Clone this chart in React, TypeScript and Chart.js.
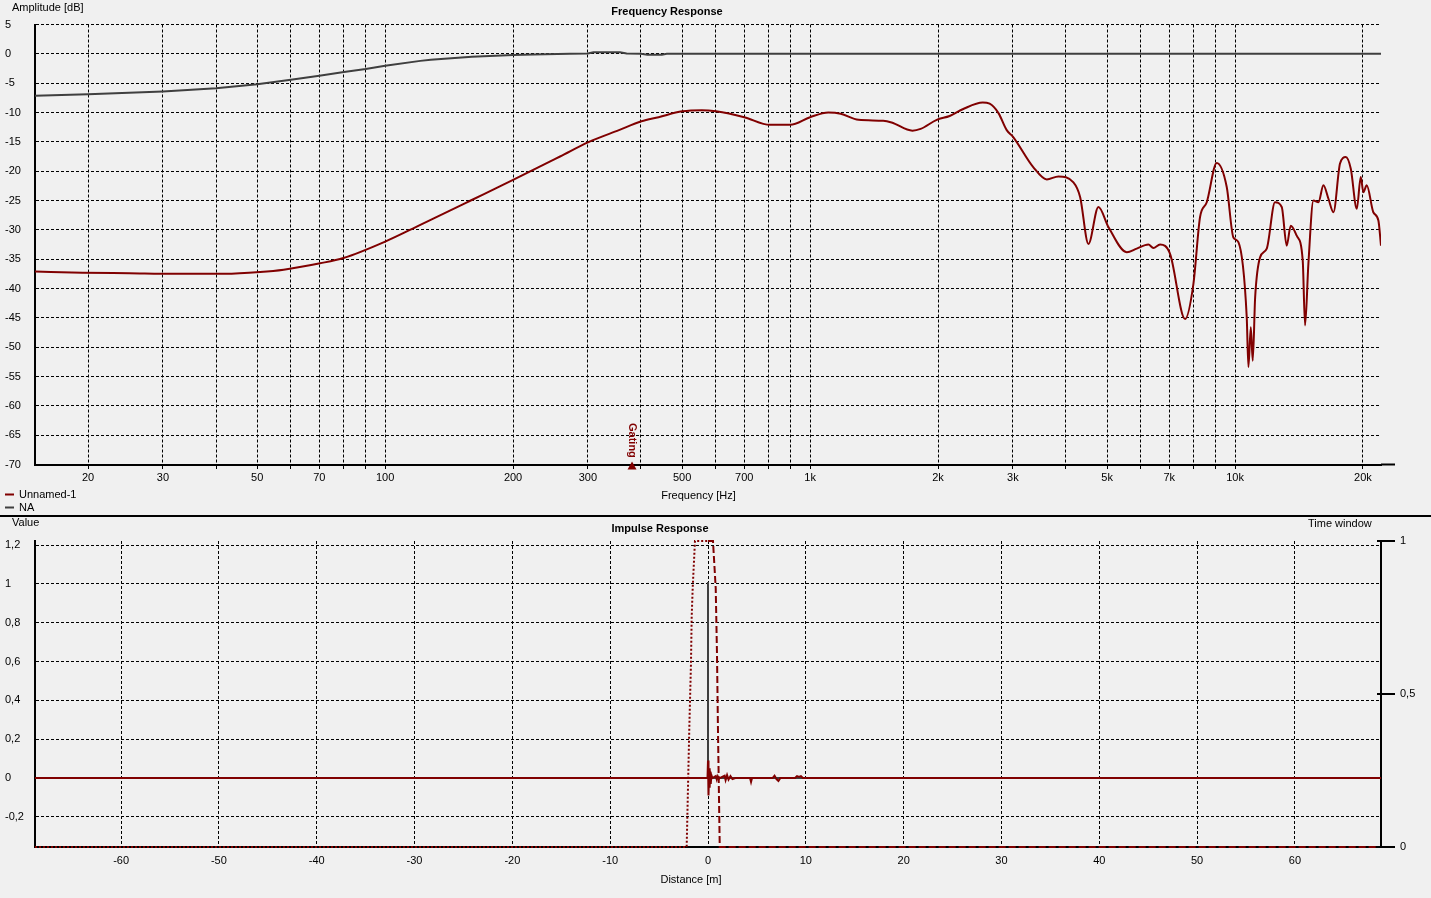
import React, { useEffect, useRef } from 'react';
import { Chart, registerables } from 'chart.js';

Chart.register(...registerables);

// ---------- Frequency response data ----------
const FREQ_RED = [
  15, 19.4, 25, 32, 42, 50.8, 57.7, 70.3, 79.8, 100, 121, 128, 159, 200, 258, 301, 355, 401, 440, 500, 556, 601,
  700, 805, 898, 1000, 1104, 1180, 1300, 1486, 1555, 1741, 1820, 1986, 2130, 2293, 2548, 2645, 2775, 2902, 3000,
  3350, 3606, 3840, 4165, 4319, 4518, 4769, 5035, 5562, 5870, 6252, 6424, 6661, 7031, 7627, 7980, 8273, 8578,
  9055, 9559, 9909, 10182, 10653, 10750, 10890, 11005, 11150, 11451, 11873, 12417, 12877, 13230, 13520, 13967,
  14428, 14612, 14878, 15290, 15710, 16140, 16585, 17040, 17660, 18220, 18720, 19340, 19760, 20040, 20410,
  21150, 21740, 22050,
];
const AMP_RED = [
  -37.1, -37.3, -37.4, -37.5, -37.5, -37.2, -36.8, -35.7, -34.8, -32.0, -29.15, -28.3, -25.0, -21.5, -17.5, -15.05,
  -13.0, -11.5, -10.8, -9.8, -9.6, -9.8, -10.8, -12.1, -12.1, -10.8, -10.0, -10.2, -11.25, -11.4, -11.7, -13.1,
  -12.8, -11.25, -10.6, -9.4, -8.3, -8.5, -10.1, -13.0, -14.1, -19.3, -21.4, -20.9, -21.9, -24.4, -32.4, -26.1,
  -29.5, -33.8, -33.2, -32.5, -33.1, -32.5, -34.1, -45.2, -39.2, -27.8, -25.3, -18.6, -22.7, -31.3, -32.1, -44.9,
  -53.4, -46.6, -52.3, -41.5, -34.7, -33.2, -25.3, -26.1, -32.7, -29.3, -31.0, -35.2, -46.3, -35.8, -25.0, -25.3,
  -22.4, -24.7, -27.0, -18.7, -17.6, -19.6, -26.4, -21.0, -23.6, -22.4, -27.0, -28.4, -32.7,
];
const FREQ_NA = [15, 20, 30, 40, 50, 60, 70, 80, 90, 100, 121, 128, 160, 200, 223, 272, 300, 309, 357, 370, 400, 414, 448, 460, 22050];
const AMP_NA = [-7.16, -6.9, -6.4, -5.85, -5.2, -4.4, -3.75, -3.1, -2.6, -2.05, -1.2, -1.0, -0.5, -0.2, -0.1, 0, 0.05, 0.25, 0.25, 0.05, 0, -0.15, -0.15, 0, 0];

const FREQ_TICKS = [20, 30, 40, 50, 60, 70, 80, 90, 100, 200, 300, 400, 500, 600, 700, 800, 900, 1000, 2000, 3000, 4000, 5000, 6000, 7000, 8000, 9000, 10000, 20000];
const FREQ_TICK_LABELS = ['20', '30', '', '50', '', '70', '', '', '100', '200', '300', '', '500', '', '700', '', '', '1k', '2k', '3k', '', '5k', '', '7k', '', '', '10k', '20k'];
const AMP_TICKS = [5, 0, -5, -10, -15, -20, -25, -30, -35, -40, -45, -50, -55, -60, -65, -70];
const GATING_FREQ = 381;

// ---------- Impulse response data ----------
const IMP_RED_X = [-68.8, -0.05, 0.0, 0.03, 0.07, 0.12, 0.17, 0.22, 0.28, 0.35, 0.45, 0.8, 0.9, 1.0, 1.1, 1.2, 1.7, 1.8, 1.95, 2.1, 2.3, 2.5, 2.8, 4.3, 4.4, 4.5, 6.6, 6.8, 7.0, 7.2, 7.4, 8.9, 9.1, 9.3, 9.5, 9.7, 68.8];
const IMP_RED_Y = [0, 0, 0.09, -0.02, -0.09, 0.05, -0.05, 0.03, -0.03, 0.015, 0, 0.01, -0.008, 0.008, -0.005, 0, 0.012, -0.01, 0.015, -0.008, 0.01, -0.005, 0, 0, -0.02, 0, 0, 0.012, -0.005, -0.015, 0, 0, 0.01, 0.006, 0.01, 0, 0];
const IMP_NA_X = [-68.8, 0, 0, 0, 68.8];
const IMP_NA_Y = [0, 0, 1.01, 0, 0];
const WIN_RISE_X = [-68.8, -2.18, -1.91, -1.74, -1.67, -1.56, -1.33, 0];
const WIN_RISE_Y = [0, 0, 0.39, 0.6, 0.75, 0.85, 1, 1];
const WIN_FALL_X = [0, 0.51, 0.79, 0.92, 1.02, 1.2, 68.8];
const WIN_FALL_Y = [1, 1, 0.845, 0.63, 0.38, 0, 0];

const DIST_TICKS = [-60, -50, -40, -30, -20, -10, 0, 10, 20, 30, 40, 50, 60];
const VALUE_TICKS = [-0.2, 0, 0.2, 0.4, 0.6, 0.8, 1, 1.2];
const WINDOW_TICKS = [0, 0.5, 1];

const FONT = "'Liberation Sans', Arial, sans-serif";
const MAROON = '#800000';
const DARK = '#3f3f3f';

const pts = (xs: number[], ys: number[]) => xs.map((x, i) => ({ x, y: ys[i] }));
const comma = (v: number) => String(Number(v.toFixed(2))).replace('.', ',');

type Txt = { t: string; x: number; y: number; bold?: boolean; align?: CanvasTextAlign; color?: string };
function drawTexts(ctx: CanvasRenderingContext2D, items: Txt[]) {
  ctx.save();
  ctx.textBaseline = 'middle';
  for (const it of items) {
    ctx.font = `${it.bold ? 'bold ' : ''}11px ${FONT}`;
    ctx.fillStyle = it.color || '#000';
    ctx.textAlign = it.align || 'left';
    ctx.fillText(it.t, it.x, it.y);
  }
  ctx.restore();
}
function seg(ctx: CanvasRenderingContext2D, x1: number, y1: number, x2: number, y2: number, color: string, w: number) {
  ctx.save();
  ctx.strokeStyle = color;
  ctx.lineWidth = w;
  ctx.beginPath();
  ctx.moveTo(x1, y1);
  ctx.lineTo(x2, y2);
  ctx.stroke();
  ctx.restore();
}

const tickFont = { family: FONT, size: 11 };

export default function App() {
  const topRef = useRef<HTMLCanvasElement>(null);
  const botRef = useRef<HTMLCanvasElement>(null);

  useEffect(() => {
    const topPlugin = {
      id: 'topDecor',
      afterDraw(chart: any) {
        const ctx = chart.ctx as CanvasRenderingContext2D;
        const ca = chart.chartArea;
        seg(ctx, ca.right, ca.bottom, ca.right + 14, ca.bottom, '#000', 2);
        drawTexts(ctx, [
          { t: 'Amplitude [dB]', x: 12, y: 7.5 },
          { t: 'Frequency Response', x: 667, y: 12, bold: true, align: 'center' },
          { t: 'Frequency [Hz]', x: 698.5, y: 496, align: 'center' },
          { t: 'Unnamed-1', x: 19, y: 494.5 },
          { t: 'NA', x: 19, y: 508 },
        ]);
        seg(ctx, 5, 494.5, 14, 494.5, MAROON, 2);
        seg(ctx, 5, 507.5, 14, 507.5, DARK, 2);
        // Gating marker
        const gx = chart.scales.x.getPixelForValue(GATING_FREQ);
        ctx.save();
        ctx.fillStyle = MAROON;
        ctx.beginPath();
        ctx.moveTo(gx, ca.bottom - 3);
        ctx.lineTo(gx - 4.5, ca.bottom + 5);
        ctx.lineTo(gx + 4.5, ca.bottom + 5);
        ctx.closePath();
        ctx.fill();
        ctx.translate(gx, 423);
        ctx.rotate(Math.PI / 2);
        ctx.font = `bold 11px ${FONT}`;
        ctx.textBaseline = 'middle';
        ctx.textAlign = 'left';
        ctx.fillText('Gating', 0, 0);
        ctx.restore();
      },
    };

    const top = new Chart(topRef.current as HTMLCanvasElement, {
      type: 'line',
      data: {
        datasets: [
          {
            label: 'Unnamed-1',
            data: pts(FREQ_RED, AMP_RED),
            borderColor: MAROON,
            borderWidth: 2,
            pointRadius: 0,
            cubicInterpolationMode: 'monotone',
          },
          {
            label: 'NA',
            data: pts(FREQ_NA, AMP_NA),
            borderColor: DARK,
            borderWidth: 2,
            pointRadius: 0,
            tension: 0,
          },
        ],
      },
      options: {
        animation: false,
        responsive: false,
        maintainAspectRatio: false,
        devicePixelRatio: 1,
        layout: { padding: { left: 5, right: 50, top: 24.5, bottom: 0 } },
        plugins: { legend: { display: false }, title: { display: false }, tooltip: { enabled: false } },
        events: [],
        scales: {
          x: {
            type: 'logarithmic',
            min: 15,
            max: 22050,
            afterBuildTicks: (s: any) => {
              s.ticks = FREQ_TICKS.map((v) => ({ value: v }));
            },
            afterFit: (s: any) => {
              s.height = 50.5;
            },
            grid: { color: '#000', lineWidth: 1, drawTicks: true, tickLength: 6, tickColor: '#000', tickBorderDash: [3, 2], tickWidth: 1 },
            border: { display: true, color: '#000', width: 2, dash: [3, 2] },
            ticks: {
              autoSkip: false,
              maxRotation: 0,
              minRotation: 0,
              padding: 1,
              color: '#000',
              font: tickFont,
              callback: (v: any) => {
                const i = FREQ_TICKS.indexOf(Number(v));
                return i >= 0 ? FREQ_TICK_LABELS[i] : '';
              },
            },
          },
          y: {
            type: 'linear',
            min: -70,
            max: 5,
            afterBuildTicks: (s: any) => {
              s.ticks = AMP_TICKS.map((v) => ({ value: v }));
            },
            afterFit: (s: any) => {
              s.width = 30;
            },
            grid: { color: '#000', lineWidth: 1, drawTicks: false },
            border: { display: true, color: '#000', width: 2, dash: [3, 2] },
            ticks: { crossAlign: 'far', color: '#000', font: tickFont, callback: (v: any) => String(v) },
          },
        },
      } as any,
      plugins: [topPlugin],
    });

    const botPlugin = {
      id: 'botDecor',
      afterDraw(chart: any) {
        const ctx = chart.ctx as CanvasRenderingContext2D;
        const ca = chart.chartArea;
        const sw = chart.scales.yWin;
        for (const v of WINDOW_TICKS) {
          const y = sw.getPixelForValue(v);
          seg(ctx, ca.right - 4, y, ca.right, y, '#000', 2);
        }
        drawTexts(ctx, [
          { t: 'Value', x: 12, y: 6 },
          { t: 'Impulse Response', x: 660, y: 12, bold: true, align: 'center' },
          { t: 'Time window', x: 1308, y: 7 },
          { t: 'Distance [m]', x: 691, y: 363, align: 'center' },
        ]);
      },
    };

    const bot = new Chart(botRef.current as HTMLCanvasElement, {
      type: 'line',
      data: {
        datasets: [
          {
            label: 'Unnamed-1',
            data: pts(IMP_RED_X, IMP_RED_Y),
            borderColor: MAROON,
            borderWidth: 2,
            pointRadius: 0,
            tension: 0,
            yAxisID: 'y',
          },
          {
            label: 'window-rise',
            data: pts(WIN_RISE_X, WIN_RISE_Y),
            borderColor: MAROON,
            borderWidth: 2,
            borderDash: [2, 2],
            pointRadius: 0,
            tension: 0,
            yAxisID: 'yWin',
            clip: 4,
          },
          {
            label: 'window-fall',
            data: pts(WIN_FALL_X, WIN_FALL_Y),
            borderColor: MAROON,
            borderWidth: 2,
            borderDash: [7, 3],
            pointRadius: 0,
            tension: 0,
            yAxisID: 'yWin',
            clip: 4,
          },
          {
            label: 'NA',
            data: pts(IMP_NA_X, IMP_NA_Y),
            borderColor: DARK,
            borderWidth: 2,
            pointRadius: 0,
            tension: 0,
            yAxisID: 'y',
          },
        ],
      },
      options: {
        animation: false,
        responsive: false,
        maintainAspectRatio: false,
        devicePixelRatio: 1,
        layout: { padding: { left: 5, right: 0, top: 24, bottom: 0 } },
        plugins: { legend: { display: false }, title: { display: false }, tooltip: { enabled: false } },
        events: [],
        scales: {
          x: {
            type: 'linear',
            min: -68.8,
            max: 68.8,
            afterBuildTicks: (s: any) => {
              s.ticks = DIST_TICKS.map((v) => ({ value: v }));
            },
            afterFit: (s: any) => {
              s.height = 51;
            },
            grid: { color: '#000', lineWidth: 1, drawTicks: false },
            border: { display: true, color: '#000', width: 2, dash: [3, 2] },
            ticks: { autoSkip: false, maxRotation: 0, padding: 7, color: '#000', font: tickFont, callback: (v: any) => String(v) },
          },
          y: {
            type: 'linear',
            position: 'left',
            min: -0.355,
            max: 1.2206,
            afterBuildTicks: (s: any) => {
              s.ticks = VALUE_TICKS.map((v) => ({ value: v }));
            },
            afterFit: (s: any) => {
              s.width = 30;
            },
            grid: { color: '#000', lineWidth: 1, drawTicks: false },
            border: { display: true, color: '#000', width: 2, dash: [3, 2] },
            ticks: { crossAlign: 'far', color: '#000', font: tickFont, callback: (v: any) => comma(Number(v)) },
          },
          yWin: {
            type: 'linear',
            position: 'right',
            min: 0,
            max: 1,
            afterBuildTicks: (s: any) => {
              s.ticks = WINDOW_TICKS.map((v) => ({ value: v }));
            },
            afterFit: (s: any) => {
              s.width = 50;
            },
            grid: { drawOnChartArea: false, drawTicks: true, tickLength: 14, color: '#000', lineWidth: 2 },
            border: { display: true, color: '#000', width: 2 },
            ticks: { padding: 5, color: '#000', font: tickFont, callback: (v: any) => comma(Number(v)) },
          },
        },
      } as any,
      plugins: [botPlugin],
    });

    return () => {
      top.destroy();
      bot.destroy();
    };
  }, []);

  return (
    <div style={{ position: 'fixed', left: 0, top: 0, width: 1431, height: 898, background: '#f0f0f0', overflow: 'hidden' }}>
      <canvas ref={topRef} width={1431} height={515} style={{ position: 'absolute', left: 0, top: 0, width: 1431, height: 515 }} />
      <div style={{ position: 'absolute', left: 0, top: 515, width: 1431, height: 2, background: '#000' }} />
      <canvas ref={botRef} width={1431} height={381} style={{ position: 'absolute', left: 0, top: 517, width: 1431, height: 381 }} />
    </div>
  );
}
